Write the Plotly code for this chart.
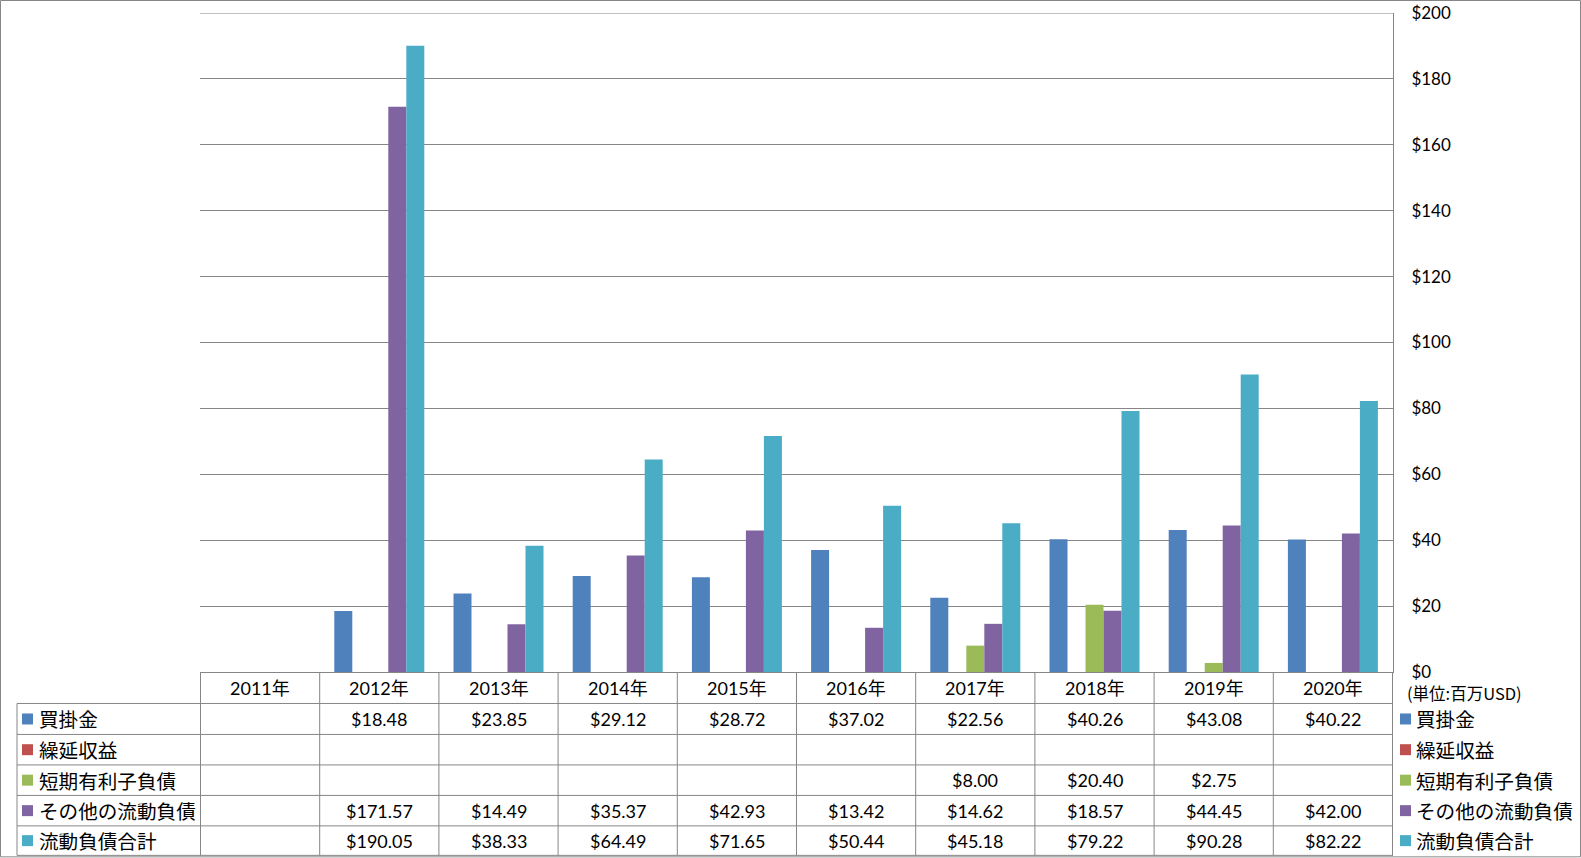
import plotly.graph_objects as go

# ---- data ----
years = ["2011年", "2012年", "2013年", "2014年", "2015年", "2016年", "2017年", "2018年", "2019年", "2020年"]
series_names = ["買掛金", "繰延収益", "短期有利子負債", "その他の流動負債", "流動負債合計"]
accounts_payable = [None, 18.48, 23.85, 29.12, 28.72, 37.02, 22.56, 40.26, 43.08, 40.22]
deferred_revenue = [None, None, None, None, None, None, None, None, None, None]
short_term_debt = [None, None, None, None, None, None, 8.00, 20.40, 2.75, None]
other_current = [None, 171.57, 14.49, 35.37, 42.93, 13.42, 14.62, 18.57, 44.45, 42.00]
total_current = [None, 190.05, 38.33, 64.49, 71.65, 50.44, 45.18, 79.22, 90.28, 82.22]
colors = ["#4F81BD", "#C0504D", "#9BBB59", "#8064A2", "#4BACC6"]
unit_label = "(単位:百万USD)"
y_ticks = list(range(0, 201, 20))
y_tick_labels = [f"${v}" for v in y_ticks]

series_values = [accounts_payable, deferred_revenue, short_term_debt, other_current, total_current]

# ---- layout geometry (pixels) ----
W, H = 1581, 858
L, R, T, B = 200, 1393, 13, 672.5
GRID = "#868686"
FONT_NUM = "Lato, 'Noto Sans CJK JP', sans-serif"
FONT_JP = "'Noto Sans CJK JP', sans-serif"


def px(x):
    return (x - L) / (R - L)


def py(y):
    return (B - y) / (B - T)


row_lines = [704, 735, 765.5, 796, 826.5, 856]
header_center = (B + row_lines[0]) / 2

fig = go.Figure()
for name, vals, col in zip(series_names, series_values, colors):
    fig.add_trace(go.Bar(x=years, y=vals, name=name, marker_color=col,
                         marker_line_width=0, offsetgroup=name))

shapes = []
annotations = []

# chart border
shapes.append(dict(type="rect", xref="paper", yref="paper",
                   x0=px(0.5), x1=px(W - 0.5), y0=py(0.5), y1=py(H - 0.5),
                   line=dict(color=GRID, width=1)))
# top gridline (axis maximum)
shapes.append(dict(type="line", xref="paper", yref="y",
                   x0=0, x1=1, y0=y_ticks[-1], y1=y_ticks[-1],
                   line=dict(color=GRID, width=1)))

# table horizontal lines
for yy in row_lines:
    shapes.append(dict(type="line", xref="paper", yref="paper",
                       x0=px(17), x1=1, y0=py(yy), y1=py(yy),
                       line=dict(color=GRID, width=1)))
# left legend column border
shapes.append(dict(type="line", xref="paper", yref="paper",
                   x0=px(17), x1=px(17), y0=py(row_lines[0]), y1=py(row_lines[-1]),
                   line=dict(color=GRID, width=1)))
# category column borders
for i in range(len(years) + 1):
    shapes.append(dict(type="line", xref="x", yref="paper",
                       x0=i - 0.5, x1=i - 0.5, y0=0, y1=py(row_lines[-1]),
                       line=dict(color=GRID, width=1)))

# header (years)
for yr in years:
    annotations.append(dict(x=yr, y=py(header_center), xref="x", yref="paper",
                            text=yr, showarrow=False, xanchor="center", yanchor="middle",
                            font=dict(family=FONT_NUM, size=18, color="#000")))

# table rows
for r, (name, vals, col) in enumerate(zip(series_names, series_values, colors)):
    yc = (row_lines[r] + row_lines[r + 1]) / 2
    for yr, v in zip(years, vals):
        if v is not None:
            annotations.append(dict(x=yr, y=py(yc), xref="x", yref="paper",
                                    text=f"${v:.2f}", showarrow=False,
                                    xanchor="center", yanchor="middle",
                                    font=dict(family=FONT_NUM, size=18, color="#000")))
    # left legend
    shapes.append(dict(type="rect", xref="paper", yref="paper",
                       x0=px(22), x1=px(33), y0=py(yc + 5.5), y1=py(yc - 5.5),
                       fillcolor=col, line=dict(width=0)))
    annotations.append(dict(x=px(37), y=py(yc), xref="paper", yref="paper",
                            text=name, showarrow=False, xanchor="left", yanchor="middle",
                            font=dict(family=FONT_JP, size=19.6, color="#000")))
    # right legend
    shapes.append(dict(type="rect", xref="paper", yref="paper",
                       x0=px(1400), x1=px(1411), y0=py(yc + 5.5), y1=py(yc - 5.5),
                       fillcolor=col, line=dict(width=0)))
    annotations.append(dict(x=px(1414), y=py(yc), xref="paper", yref="paper",
                            text=name, showarrow=False, xanchor="left", yanchor="middle",
                            font=dict(family=FONT_JP, size=19.6, color="#000")))

# unit label
annotations.append(dict(x=px(1405), y=py(694), xref="paper", yref="paper",
                        text=unit_label, showarrow=False, xanchor="left", yanchor="middle",
                        font=dict(family=FONT_JP, size=16.5, color="#000")))

fig.update_layout(
    width=W, height=H,
    margin=dict(l=L, r=W - R, t=T, b=H - B, autoexpand=False),
    paper_bgcolor="white", plot_bgcolor="white",
    barmode="group", bargap=0.245, bargroupgap=0,
    showlegend=False,
    shapes=shapes, annotations=annotations,
    xaxis=dict(type="category", categoryorder="array", categoryarray=years,
               showticklabels=False, ticks="", showgrid=False,
               showline=True, linecolor=GRID, linewidth=1),
    yaxis=dict(side="right", range=[0, 200], tickmode="array",
               tickvals=y_ticks, ticktext=y_tick_labels,
               showgrid=True, gridcolor=GRID, gridwidth=1,
               zeroline=False, showline=True, linecolor=GRID, linewidth=1,
               ticks="", ticklabelstandoff=14,
               tickfont=dict(family=FONT_NUM, size=17, color="#000")),
)

fig.write_html("out.html", config={"displayModeBar": False},
               post_script="document.body.style.margin='0';document.body.style.padding='0';document.body.style.overflow='hidden';")
